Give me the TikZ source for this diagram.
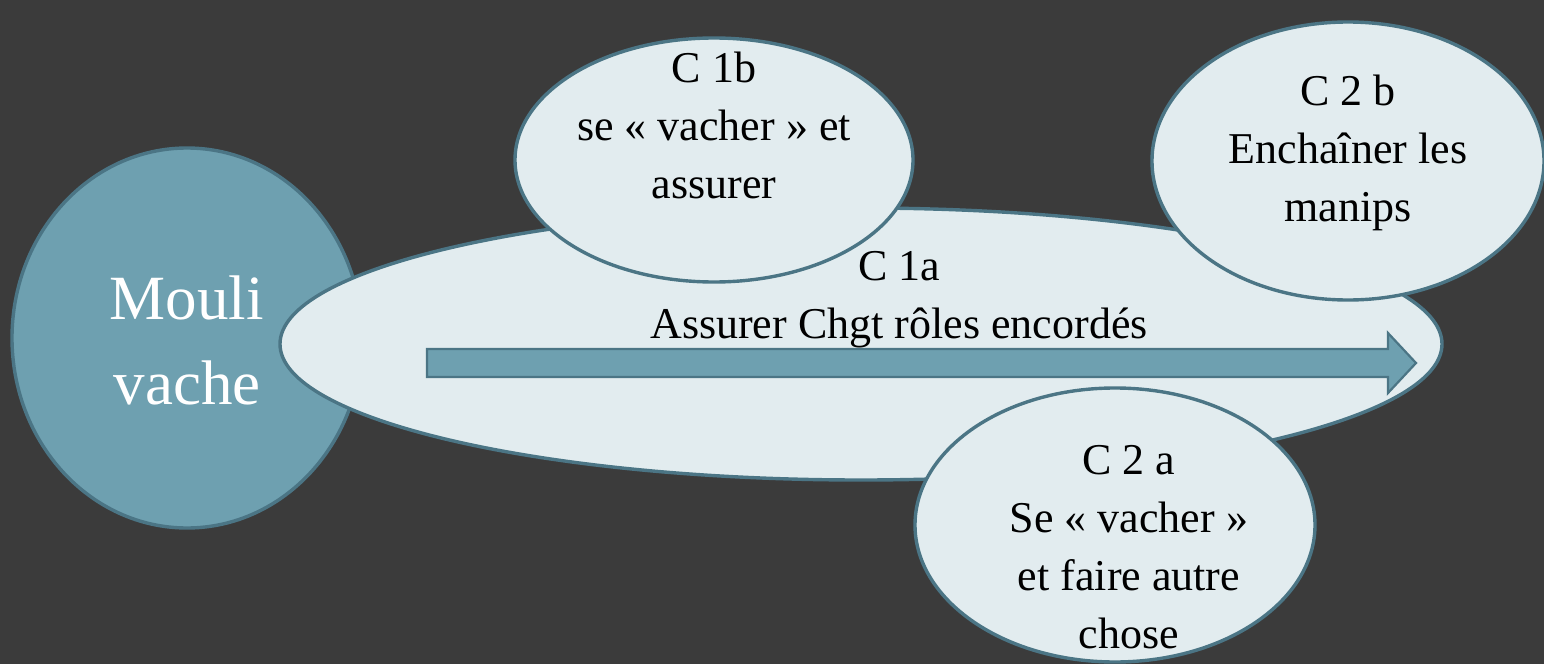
\documentclass[tikz,border=0pt]{standalone}
\usepackage{fontspec}
\setmainfont{Liberation Serif}
\usetikzlibrary{shapes.geometric}
\definecolor{bg}{HTML}{3B3B3B}
\definecolor{tealfill}{HTML}{6EA0B0}
\definecolor{paleblue}{HTML}{E2ECEF}
\definecolor{rim}{HTML}{4B7585}
\begin{document}
\begin{tikzpicture}[x=0.5pt,y=-0.5pt,
  hub/.style={ellipse, draw=rim, line width=1.7pt, fill=tealfill, inner sep=0pt, outer sep=0pt},
  bubble/.style={ellipse, draw=rim, line width=1.7pt, fill=paleblue, inner sep=0pt, outer sep=0pt},
  txt/.style={align=center, text=black, inner sep=0pt, font=\fontsize{22pt}{29pt}\selectfont},
  flow/.style={fill=tealfill, draw=rim, line width=1.1pt, line join=miter}
]
% background and page size
\fill[bg] (0,0) rectangle (1544,664);
\useasboundingbox (0,0) rectangle (1544,664);

% central hub
\node[hub, minimum width=175pt, minimum height=190pt] (hub) at (187,338) {};
\node[txt, text=white, font=\fontsize{31.5pt}{42.5pt}\selectfont] (hubtext) at (187,340) {Mouli\\vache};

% main competence band
\node[bubble, minimum width=581pt, minimum height=136pt] (c1a) at (861,344) {};

% progression arrow
\coordinate (arrowstart) at (427,363);
\coordinate (arrowtip) at (1416,363);
\draw[flow] (arrowstart) ++(0,-14) -- (1388,349) -- (1388,333) -- (arrowtip)
  -- (1388,393) -- (1388,377) -- (427,377) -- cycle;

\node[txt] (c1atext) at (899,300) {C 1a\\Assurer Chgt rôles encordés};

% satellite competences
\node[bubble, minimum width=199pt, minimum height=122pt] (c1b) at (714,160) {};
\node[txt] (c1btext) at (714,125) {C 1b\\se « vacher » et\\assurer};

\node[bubble, minimum width=196pt, minimum height=139pt] (c2b) at (1348,161) {};
\node[txt] (c2btext) at (1348,153) {C 2 b\\Enchaîner les\\manips};

\node[bubble, minimum width=200pt, minimum height=137pt] (c2a) at (1115,525) {};
\node[txt] (c2atext) at (1129,547) {C 2 a\\Se « vacher »\\et faire autre\\chose};
\end{tikzpicture}
\end{document}
